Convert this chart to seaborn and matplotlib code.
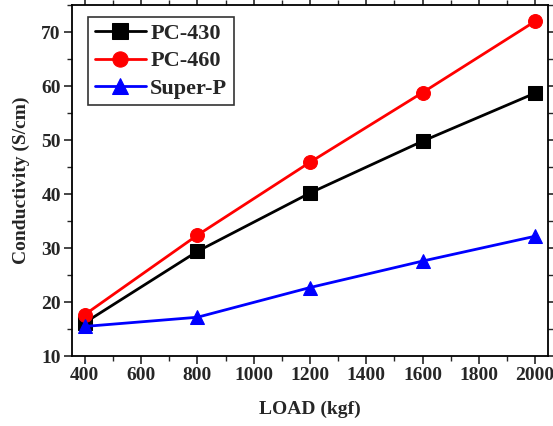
import matplotlib
matplotlib.use("Agg")
import matplotlib.pyplot as plt
import pandas as pd
import seaborn as sns
from matplotlib.ticker import MultipleLocator

load = [400, 800, 1200, 1600, 2000]
pc430 = [16.2, 29.4, 40.2, 49.8, 58.7]
pc460 = [17.7, 32.4, 45.9, 58.8, 72.0]
super_p = [15.5, 17.2, 22.7, 27.6, 32.2]

series = ["PC-430", "PC-460", "Super-P"]
colors = ["black", "red", "blue"]
markers = ["s", "o", "^"]

df = pd.DataFrame({
    "load": load * 3,
    "cond": pc430 + pc460 + super_p,
    "series": [s for s in series for _ in load],
})

sns.set_style("ticks")
plt.rcParams["font.family"] = ["Liberation Serif", "DejaVu Serif"]
plt.rcParams["font.weight"] = "bold"

fig, ax = plt.subplots(figsize=(5.53, 4.26), dpi=100)
fig.subplots_adjust(left=0.130, right=0.991, top=0.988, bottom=0.164)

for name, color, marker in zip(series, colors, markers):
    sub = df[df["series"] == name]
    sns.lineplot(data=sub, x="load", y="cond", ax=ax, color=color, marker=marker,
                 markersize=10, markeredgecolor=color, linewidth=2, label=name)

ax.set_xlim(354, 2046)
ax.set_ylim(10, 75)
ax.xaxis.set_major_locator(MultipleLocator(200))
ax.xaxis.set_minor_locator(MultipleLocator(100))
ax.yaxis.set_major_locator(MultipleLocator(10))
ax.yaxis.set_minor_locator(MultipleLocator(5))
ax.tick_params(axis="both", which="major", labelsize=14, length=6, width=1.2,
               direction="out", pad=2)
ax.tick_params(axis="both", which="minor", length=3.5, width=1, direction="out")
ax.tick_params(top=True, right=True, which="both")
for lbl in ax.get_xticklabels() + ax.get_yticklabels():
    lbl.set_fontweight("bold")
for sp in ax.spines.values():
    sp.set_linewidth(1.3)
    sp.set_color("black")

ax.set_xlabel("LOAD (kgf)", fontsize=14, fontweight="bold", labelpad=12)
ax.set_ylabel("Conductivity (S/cm)", fontsize=14, fontweight="bold", labelpad=8)

leg = ax.legend(loc="upper left", bbox_to_anchor=(0.034, 0.966), fontsize=16, frameon=True,
                fancybox=False, edgecolor="black", handlelength=2.3, borderpad=0.3,
                labelspacing=0.3, handletextpad=0.2, borderaxespad=0, markerscale=1.1)
leg.get_frame().set_linewidth(1.2)
for t in leg.get_texts():
    t.set_fontweight("bold")

fig.savefig("out.png", dpi=100)
